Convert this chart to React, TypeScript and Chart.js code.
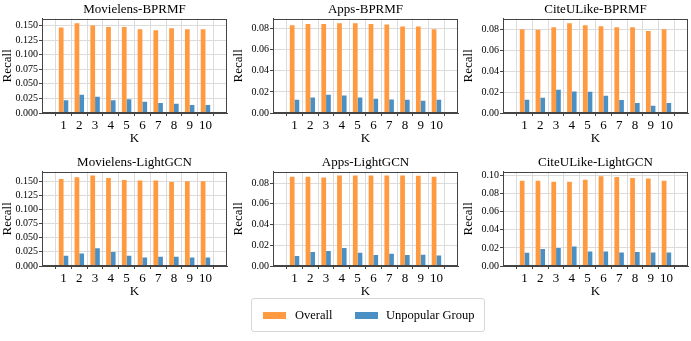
import React, { useEffect, useRef } from "react";
import { Chart, registerables } from "chart.js";

Chart.register(...registerables);

const K = [1, 2, 3, 4, 5, 6, 7, 8, 9, 10];
const SERIES_NAMES = ["Overall", "Unpopular Group"];

const mlBprOverall = [0.1466, 0.154, 0.150, 0.1477, 0.1477, 0.1437, 0.142, 0.1455, 0.1437, 0.1437];
const mlBprUnpop = [0.0217, 0.0314, 0.028, 0.0217, 0.0234, 0.0194, 0.0171, 0.016, 0.0137, 0.0137];

const appsBprOverall = [0.0831, 0.0844, 0.0844, 0.085, 0.085, 0.0844, 0.0838, 0.0819, 0.0819, 0.0794];
const appsBprUnpop = [0.0126, 0.0147, 0.0173, 0.0166, 0.0147, 0.0135, 0.0129, 0.0126, 0.0116, 0.0126];

const citeBprOverall = [0.0803, 0.0797, 0.0822, 0.086, 0.0841, 0.0832, 0.0822, 0.0822, 0.0787, 0.0803];
const citeBprUnpop = [0.0127, 0.0146, 0.0222, 0.0206, 0.0203, 0.0165, 0.0124, 0.0095, 0.007, 0.0095];

const mlGcnOverall = [0.154, 0.157, 0.160, 0.1558, 0.1523, 0.1511, 0.1511, 0.1488, 0.150, 0.150];
const mlGcnUnpop = [0.0182, 0.0223, 0.0316, 0.0246, 0.0182, 0.0152, 0.0164, 0.0164, 0.0152, 0.0152];

const appsGcnOverall = [0.0861, 0.0861, 0.0854, 0.0874, 0.0874, 0.0874, 0.0874, 0.0874, 0.087, 0.0861];
const appsGcnUnpop = [0.0096, 0.0134, 0.0144, 0.0173, 0.0128, 0.0106, 0.0118, 0.0106, 0.0109, 0.0102];

const citeGcnOverall = [0.0945, 0.0945, 0.0934, 0.0934, 0.0956, 0.0993, 0.0985, 0.0974, 0.097, 0.0945];
const citeGcnUnpop = [0.0147, 0.0187, 0.0198, 0.0216, 0.0161, 0.0161, 0.015, 0.0154, 0.015, 0.015];

const ORANGE = "#ff9a40";
const BLUE = "#4a90c4";
const FONT = "'Liberation Serif', 'Times New Roman', serif";

type Panel = {
  title: string;
  overall: number[];
  unpop: number[];
  yMax: number;
  step: number;
  decimals: number;
  left: number;
  top: number;
  height: number;
};

const PANELS: Panel[] = [
  { title: "Movielens-BPRMF", overall: mlBprOverall, unpop: mlBprUnpop, yMax: 0.162, step: 0.025, decimals: 3, left: 0, top: 0, height: 146 },
  { title: "Apps-BPRMF", overall: appsBprOverall, unpop: appsBprUnpop, yMax: 0.0895, step: 0.02, decimals: 2, left: 231, top: 0, height: 146 },
  { title: "CiteULike-BPRMF", overall: citeBprOverall, unpop: citeBprUnpop, yMax: 0.0905, step: 0.02, decimals: 2, left: 461, top: 0, height: 146 },
  { title: "Movielens-LightGCN", overall: mlGcnOverall, unpop: mlGcnUnpop, yMax: 0.167, step: 0.025, decimals: 3, left: 0, top: 153, height: 146 },
  { title: "Apps-LightGCN", overall: appsGcnOverall, unpop: appsGcnUnpop, yMax: 0.0911, step: 0.02, decimals: 2, left: 231, top: 153, height: 146 },
  { title: "CiteULike-LightGCN", overall: citeGcnOverall, unpop: citeGcnUnpop, yMax: 0.1045, step: 0.02, decimals: 2, left: 461, top: 153, height: 146 },
];

const framePlugin = {
  id: "frame",
  afterDatasetsDraw(chart: any) {
    const { ctx, chartArea } = chart;
    const l = Math.round(chartArea.left) + 0.5;
    const t = Math.round(chartArea.top) + 0.5;
    const r = Math.round(chartArea.right) - 0.5;
    const b = Math.round(chartArea.bottom) - 0.5;
    ctx.save();
    ctx.strokeStyle = "#444";
    ctx.lineWidth = 1;
    ctx.strokeRect(l, t, r - l, b - t);
    ctx.restore();
  },
};

function PanelChart({ p }: { p: Panel }) {
  const ref = useRef<HTMLCanvasElement | null>(null);
  useEffect(() => {
    if (!ref.current) return;
    const chart = new Chart(ref.current, {
      type: "bar",
      data: {
        datasets: [
          {
            label: SERIES_NAMES[0],
            data: K.map((k, i) => ({ x: k, y: p.overall[i] })),
            backgroundColor: ORANGE,
            categoryPercentage: 0.6,
            barPercentage: 1.0,
          },
          {
            label: SERIES_NAMES[1],
            data: K.map((k, i) => ({ x: k, y: p.unpop[i] })),
            backgroundColor: BLUE,
            categoryPercentage: 0.6,
            barPercentage: 1.0,
          },
        ],
      },
      options: {
        animation: false,
        responsive: true,
        maintainAspectRatio: false,
        layout: { padding: { left: 0, right: 3, top: 0, bottom: 0 } },
        plugins: {
          legend: { display: false },
          tooltip: { enabled: false },
          title: {
            display: true,
            fullSize: false,
            text: p.title,
            color: "#000",
            font: { family: FONT, size: 13, weight: "normal" },
            padding: { top: 2, bottom: 1 },
          },
        },
        scales: {
          x: {
            type: "linear",
            min: 0.22,
            max: 10.78,
            afterBuildTicks: (s: any) => {
              s.ticks = K.map((v) => ({ value: v }));
            },
            afterFit: (s: any) => {
              s.height = 33;
            },
            ticks: {
              autoSkip: false,
              maxRotation: 0,
              color: "#000",
              font: { family: FONT, size: 13 },
              padding: 2,
              callback: (v: any) => String(v),
            },
            grid: { color: "#dcdcdc", tickColor: "#444", tickLength: 3, lineWidth: 1 },
            border: { color: "#444" },
            title: {
              display: true,
              text: "K",
              color: "#000",
              font: { family: FONT, size: 13, lineHeight: 1.2 },
              padding: { top: 0, bottom: 0 },
            },
          },
          y: {
            min: 0,
            max: p.yMax,
            afterFit: (s: any) => {
              s.width = 42;
            },
            ticks: {
              stepSize: p.step,
              includeBounds: false,
              color: "#000",
              font: { family: FONT, size: 10 },
              padding: 1,
              callback: (v: any) => Number(v).toFixed(p.decimals),
            },
            grid: { color: "#dcdcdc", tickColor: "#444", tickLength: 3, lineWidth: 1 },
            border: { color: "#444" },
            title: {
              display: true,
              text: "Recall",
              color: "#000",
              font: { family: FONT, size: 13, lineHeight: 1.15 },
              padding: { top: 0, bottom: 0 },
            },
          },
        },
      } as any,
      plugins: [framePlugin],
    });
    return () => chart.destroy();
  }, [p]);
  return (
    <div style={{ position: "absolute", left: p.left, top: p.top, width: 230, height: p.height }}>
      <canvas ref={ref} />
    </div>
  );
}

export default function App() {
  return (
    <div style={{ position: "absolute", left: 0, top: 0, width: 691, height: 341, background: "#fff", overflow: "hidden" }}>
      {PANELS.map((p) => (
        <PanelChart key={p.title} p={p} />
      ))}
      <div
        style={{
          position: "absolute",
          left: 251,
          top: 298,
          width: 234,
          height: 34,
          boxSizing: "border-box",
          border: "1px solid #d6d6d6",
          borderRadius: 3,
          fontFamily: FONT,
          fontSize: 12.5,
          color: "#000",
        }}
      >
        <div style={{ position: "absolute", left: 11, top: 13, width: 23, height: 7, background: ORANGE }} />
        <div style={{ position: "absolute", left: 43, top: 8, lineHeight: "16px", whiteSpace: "nowrap" }}>{SERIES_NAMES[0]}</div>
        <div style={{ position: "absolute", left: 103, top: 13, width: 23, height: 7, background: BLUE }} />
        <div style={{ position: "absolute", left: 134, top: 8, lineHeight: "16px", whiteSpace: "nowrap" }}>{SERIES_NAMES[1]}</div>
      </div>
    </div>
  );
}
